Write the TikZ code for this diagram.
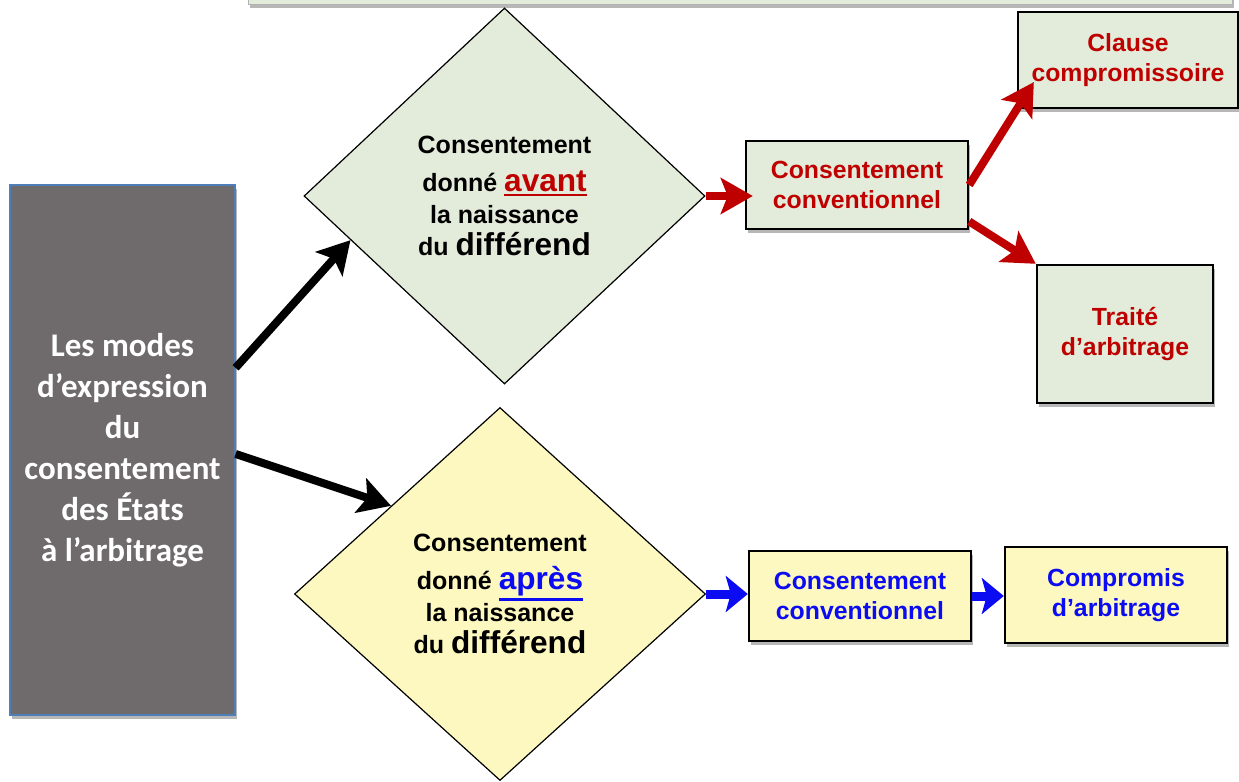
\documentclass[tikz,border=0pt]{standalone}
\usepackage{fontspec}
\setmainfont{Liberation Sans}
\newfontfamily\calibri{Carlito}
\usetikzlibrary{shapes.geometric,arrows.meta,shadows}
\definecolor{vertpale}{HTML}{E3ECDA}
\definecolor{jaunepale}{HTML}{FCF8BF}
\definecolor{grisfonce}{HTML}{6F6B6C}
\definecolor{rouge}{HTML}{BF0000}
\definecolor{bleu}{HTML}{0C0CF2}
\definecolor{bordbleu}{HTML}{4F7FB8}
\tikzset{ombre/.style={drop shadow={shadow xshift=1pt, shadow yshift=-2pt, opacity=0.4, fill=black!70}},
  modes/.style={rectangle, fill=grisfonce, draw=bordbleu, line width=0.6pt, text=white, align=center,
    font=\calibri\bfseries\fontsize{16.5}{20.5}\selectfont, minimum width=112.5pt, minimum height=265pt, ombre},
  losange/.style={diamond, draw, line width=0.6pt, inner sep=0pt, align=center,
    font=\bfseries\fontsize{12.5}{16}\selectfont},
  boite/.style={rectangle, draw, line width=1.2pt, inner sep=0pt, align=center,
    font=\bfseries\fontsize{12.4}{15.3}\selectfont, ombre},
  fleche/.style={line width=4pt, -{Stealth[length=16pt, width=18pt, inset=3.5pt]}},
  flechebleue/.style={line width=4.5pt, bleu, -{Stealth[length=11pt, width=18pt, inset=2.5pt]}}}
\newcommand{\gros}[1]{{\fontsize{15.8}{16}\selectfont #1}}
\newcommand{\souligne}[1]{\leavevmode\vtop{\hbox{#1}\kern1pt\hrule height 1.2pt}}

\begin{document}
\begin{tikzpicture}[x=0.5pt, y=-0.5pt]
\useasboundingbox (0,0) rectangle (1239,782);
\draw[draw=gray!60, fill=vertpale, ombre] (248,-30) rectangle (1232,4);

\node[modes] (modes) at (122.5,450) {Les modes\\d’expression\\du\\consentement\\des États\\à l’arbitrage};

\node[losange, fill=vertpale, minimum width=200.5pt, minimum height=188pt] (avant) at (504.5,196)
  {Consentement\\[3pt] donné \textcolor{rouge}{\gros{\souligne{avant}}}\\ la naissance\\ du \gros{différend}};
\node[losange, fill=jaunepale, minimum width=205.5pt, minimum height=186.5pt] (apres) at (500,594)
  {Consentement\\[3pt] donné \textcolor{bleu}{\gros{\souligne{après}}}\\ la naissance\\ du \gros{différend}};

\node[boite, fill=vertpale, text=rouge, minimum width=111pt, minimum height=44pt] (cc1) at (857,185) {Consentement\\conventionnel};
\node[boite, fill=vertpale, text=rouge, minimum width=110pt, minimum height=48pt] (clause) at (1128,60) {Clause\\compromissoire};
\node[boite, fill=vertpale, text=rouge, minimum width=88pt, minimum height=69pt] (traite) at (1125,334) {Traité\\d’arbitrage};
\node[boite, fill=jaunepale, text=bleu, minimum width=111pt, minimum height=45pt] (cc2) at (860,596) {Consentement\\conventionnel};
\node[boite, fill=jaunepale, text=bleu, minimum width=111pt, minimum height=48pt] (compromis) at (1116,595) {Compromis\\d’arbitrage};

\draw[fleche] (modes.36) -- (avant.196);
\draw[fleche] (modes.-2.5) -- (apres.141);
\draw[fleche, rouge, shorten >=-4pt] (avant.east) -- (avant.east -| cc1.west);
\draw[fleche, rouge, shorten >=-16pt] (cc1.east) -- (clause.south west);
\draw[fleche, rouge] (cc1.-18) -- (traite.north west);
\draw[flechebleue] (apres.east) -- (apres.east -| cc2.west);
\draw[flechebleue] (cc2.east) -- (cc2.east -| compromis.west);
\end{tikzpicture}
\end{document}
